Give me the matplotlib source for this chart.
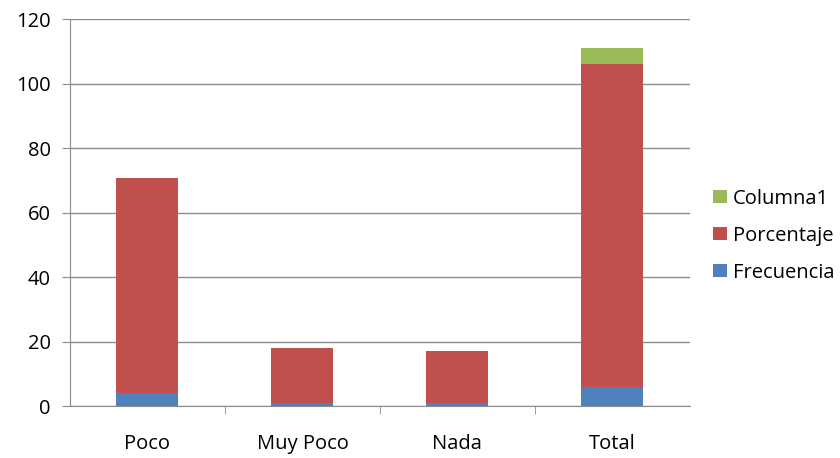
import matplotlib.pyplot as plt
import numpy as np

categorias = ["Poco", "Muy Poco", "Nada", "Total"]
frecuencia = [4, 1, 1, 6]
porcentaje = [66.7, 17, 16, 100]
columna1 = [0, 0, 0, 4.9]

plt.rcParams['font.family'] = ['Open Sans', 'DejaVu Sans']

fig = plt.figure(figsize=(8.4, 4.58), dpi=100)
ax = fig.add_axes([0.0833, 0.1135, 0.738, 0.845])

x = np.arange(len(categorias))
w = 0.4
b1 = ax.bar(x, frecuencia, w, color="#4F81BD", label="Frecuencia", zorder=3)
b2 = ax.bar(x, porcentaje, w, bottom=frecuencia, color="#C0504D", label="Porcentaje", zorder=3)
base = np.array(frecuencia) + np.array(porcentaje)
b3 = ax.bar(x, columna1, w, bottom=base, color="#9BBB59", label="Columna1", zorder=3)

ax.set_xlim(-0.5, 3.5)
ax.set_ylim(0, 120)
ax.set_yticks(range(0, 121, 20))
ax.set_xticks(x)
ax.set_xticklabels(categorias)
ax.set_xticks(np.arange(0.5, 3.5, 1), minor=True)
ax.yaxis.grid(True, color="#8c8c8c", linewidth=1)
ax.set_axisbelow(True)
for s in ["top", "right"]:
    ax.spines[s].set_visible(False)
ax.spines["left"].set_color("#8c8c8c")
ax.spines["bottom"].set_color("#8c8c8c")
ax.tick_params(axis="y", length=6, color="#8c8c8c", labelsize=14.5, pad=8)
ax.tick_params(axis="x", which="major", length=0, labelsize=14.5, pad=20)
ax.tick_params(axis="x", which="minor", length=6, color="#8c8c8c")

ax.legend([b3, b2, b1], ["Columna1", "Porcentaje", "Frecuencia"],
          loc="center left", bbox_to_anchor=(1.025, 0.44), frameon=False,
          fontsize=14.5, handlelength=0.65, handleheight=0.65, handletextpad=0.3,
          labelspacing=0.85, borderaxespad=0)

fig.savefig("out.png", dpi=100)
